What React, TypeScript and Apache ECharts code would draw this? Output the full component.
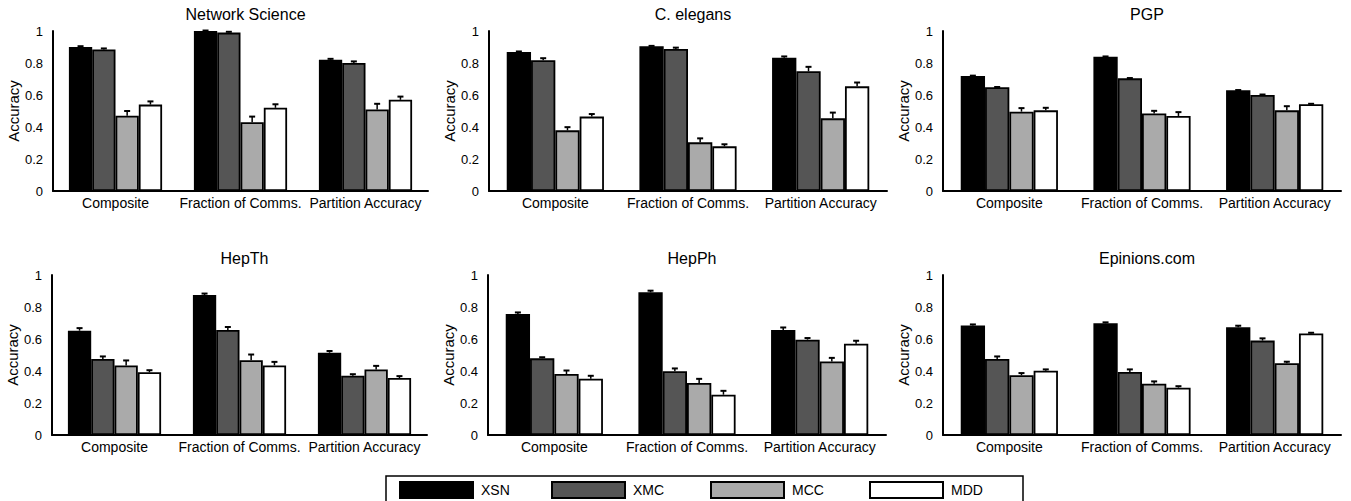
import React, { useEffect, useRef } from "react";
import * as echarts from "echarts";

const categories = ["Composite", "Fraction of Comms.", "Partition Accuracy"];
const methods = ["XSN", "XMC", "MCC", "MDD"];
const methodColors = ["#000000", "#555555", "#aaaaaa", "#ffffff"];
const datasetNames = ["Network Science", "C. elegans", "PGP", "HepTh", "HepPh", "Epinions.com"];
const yTicks = [0, 0.2, 0.4, 0.6, 0.8, 1];

// means[method][category]
const networkScienceMeans = [
  [0.9, 1.0, 0.82],
  [0.885, 0.99, 0.8],
  [0.47, 0.43, 0.51],
  [0.54, 0.52, 0.57],
];
const networkScienceErrors = [
  [0.005, 0.003, 0.006],
  [0.006, 0.005, 0.01],
  [0.03, 0.035, 0.035],
  [0.02, 0.022, 0.02],
];
const cElegansMeans = [
  [0.869, 0.904, 0.833],
  [0.817, 0.888, 0.748],
  [0.379, 0.304, 0.454],
  [0.465, 0.279, 0.654],
];
const cElegansErrors = [
  [0.003, 0.003, 0.008],
  [0.013, 0.008, 0.028],
  [0.02, 0.025, 0.036],
  [0.016, 0.013, 0.024],
];
const pgpMeans = [
  [0.719, 0.839, 0.629],
  [0.648, 0.704, 0.6],
  [0.496, 0.485, 0.504],
  [0.504, 0.469, 0.542],
];
const pgpErrors = [
  [0.002, 0.002, 0.002],
  [0.002, 0.002, 0.003],
  [0.022, 0.016, 0.026],
  [0.016, 0.024, 0.003],
];
const hepThMeans = [
  [0.652, 0.875, 0.514],
  [0.475, 0.656, 0.371],
  [0.435, 0.467, 0.41],
  [0.392, 0.435, 0.356],
];
const hepThErrors = [
  [0.016, 0.009, 0.011],
  [0.016, 0.019, 0.009],
  [0.031, 0.036, 0.022],
  [0.013, 0.022, 0.012],
];
const hepPhMeans = [
  [0.756, 0.892, 0.656],
  [0.479, 0.398, 0.596],
  [0.381, 0.325, 0.46],
  [0.352, 0.252, 0.571],
];
const hepPhErrors = [
  [0.01, 0.01, 0.016],
  [0.007, 0.018, 0.01],
  [0.022, 0.026, 0.022],
  [0.018, 0.024, 0.018],
];
const epinionsMeans = [
  [0.685, 0.698, 0.673],
  [0.475, 0.394, 0.59],
  [0.373, 0.321, 0.448],
  [0.402, 0.296, 0.635],
];
const epinionsErrors = [
  [0.006, 0.006, 0.01],
  [0.016, 0.016, 0.014],
  [0.014, 0.014, 0.01],
  [0.008, 0.009, 0.004],
];

const allMeans = [networkScienceMeans, cElegansMeans, pgpMeans, hepThMeans, hepPhMeans, epinionsMeans];
const allErrors = [networkScienceErrors, cElegansErrors, pgpErrors, hepThErrors, hepPhErrors, epinionsErrors];

const FONT = "'Liberation Sans', Arial, Helvetica, sans-serif";

const layout = [
  { left: 53, top: 31, width: 375, barWidth: 23.3 },
  { left: 489, top: 31, width: 398, barWidth: 24.3 },
  { left: 943, top: 31, width: 398, barWidth: 24.3 },
  { left: 52, top: 275, width: 375, barWidth: 23.3 },
  { left: 488, top: 275, width: 398, barWidth: 24.3 },
  { left: 943, top: 275, width: 398, barWidth: 24.3 },
];
const legendLefts = [399, 551, 710, 869];
const GRID_H = 160;

export default function App() {
  const ref = useRef<HTMLDivElement>(null);
  useEffect(() => {
    document.body.style.margin = "0";
    const chart = echarts.init(ref.current!, null, { renderer: "svg" });
    const grid: any[] = [];
    const xAxis: any[] = [];
    const yAxis: any[] = [];
    const title: any[] = [];
    const series: any[] = [];
    layout.forEach((g, i) => {
      grid.push({ left: g.left, top: g.top, width: g.width, height: GRID_H });
      title.push({
        text: datasetNames[i],
        left: g.left + g.width / 2,
        top: g.top - 30,
        textAlign: "center",
        textStyle: { fontFamily: FONT, fontSize: 16, fontWeight: "normal", color: "#000" },
      });
      xAxis.push({
        type: "category",
        gridIndex: i,
        data: categories,
        axisLine: { lineStyle: { color: "#000", width: 2 } },
        axisTick: { show: false },
        axisLabel: { color: "#000", fontFamily: FONT, fontSize: 14, margin: 5, interval: 0 },
      });
      yAxis.push({
        type: "value",
        gridIndex: i,
        min: 0,
        max: 1,
        interval: 0.2,
        name: "Accuracy",
        nameLocation: "middle",
        nameGap: 30,
        nameTextStyle: { fontFamily: FONT, fontSize: 15, color: "#000" },
        splitLine: { show: false },
        axisLine: { show: true, lineStyle: { color: "#000", width: 2 } },
        axisTick: { show: false },
        axisLabel: {
          color: "#000",
          fontFamily: FONT,
          fontSize: 13,
          margin: 10,
          formatter: (v: number) => (yTicks.includes(Math.round(v * 10) / 10) ? String(Math.round(v * 10) / 10) : ""),
        },
      });
      methods.forEach((m, mi) => {
        series.push({
          type: "bar",
          name: m,
          xAxisIndex: i,
          yAxisIndex: i,
          data: allMeans[i][mi],
          barWidth: g.barWidth,
          barGap: "0%",
          itemStyle: { color: methodColors[mi], borderColor: "#000", borderWidth: 1.8 },
        });
      });
      const errData: number[][] = [];
      methods.forEach((m, mi) => {
        categories.forEach((c, ci) => {
          errData.push([ci, allMeans[i][mi][ci], allErrors[i][mi][ci], mi]);
        });
      });
      const bw = g.barWidth;
      series.push({
        type: "custom",
        xAxisIndex: i,
        yAxisIndex: i,
        z: 10,
        silent: true,
        data: errData,
        encode: { x: 0, y: 1 },
        renderItem: (params: any, api: any) => {
          const ci = api.value(0);
          const v = api.value(1);
          const e = api.value(2);
          const mi = api.value(3);
          const base = api.coord([ci, v]);
          const top = api.coord([ci, v + e]);
          const x = base[0] + (mi - 1.5) * bw;
          return {
            type: "group",
            children: [
              {
                type: "line",
                shape: { x1: x, y1: base[1], x2: x, y2: top[1] },
                style: { stroke: "#000", lineWidth: 1.5 },
              },
              {
                type: "line",
                shape: { x1: x - 3, y1: top[1], x2: x + 3, y2: top[1] },
                style: { stroke: "#000", lineWidth: 2 },
              },
            ],
          };
        },
      });
    });

    const legend = methods.map((m, mi) => ({
      data: [m],
      left: legendLefts[mi],
      top: 481,
      padding: 0,
      itemGap: 0,
      itemWidth: 73,
      itemHeight: 16,
      icon: "rect",
      selectedMode: false,
      textStyle: { fontFamily: FONT, fontSize: 14, color: "#000", padding: [0, 0, 0, 3] },
    }));

    chart.setOption({
      animation: false,
      backgroundColor: "#fff",
      title,
      grid,
      xAxis,
      yAxis,
      series,
      legend,
      graphic: [
        {
          type: "rect",
          shape: { x: 386, y: 476, width: 637, height: 40 },
          style: { fill: "none", stroke: "#000", lineWidth: 1.5 },
          silent: true,
        },
      ],
    });
    return () => chart.dispose();
  }, []);
  return <div ref={ref} style={{ width: 1351, height: 501 }} />;
}
